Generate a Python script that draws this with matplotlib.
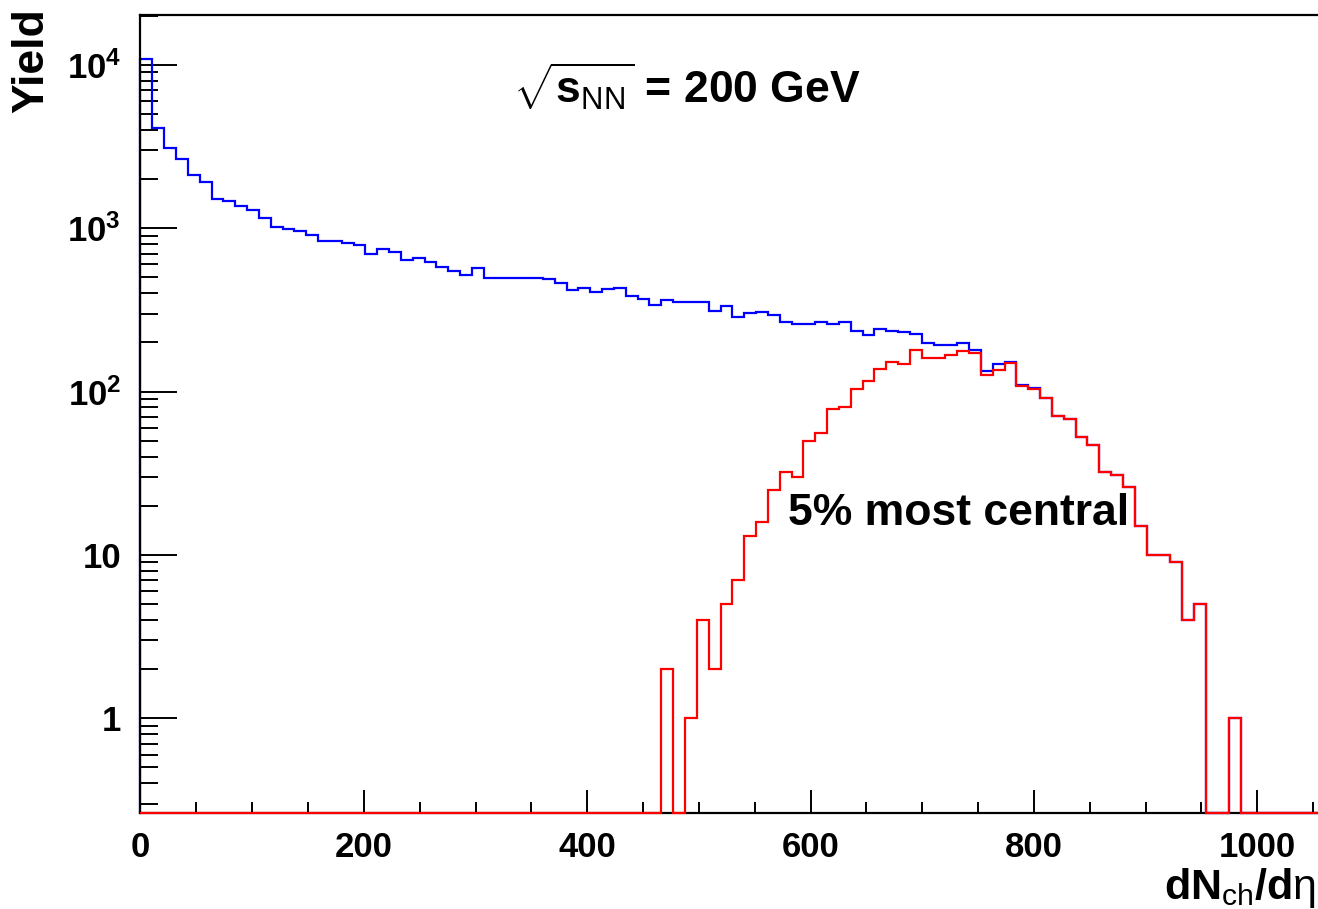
import numpy as np
import matplotlib
matplotlib.use("Agg")
import matplotlib.pyplot as plt
from matplotlib.ticker import MultipleLocator, LogLocator, NullFormatter

plt.rcParams['font.family'] = ['Liberation Sans', 'DejaVu Sans']
plt.rcParams['font.weight'] = 'bold'
plt.rcParams['mathtext.fontset'] = 'custom'
plt.rcParams['mathtext.rm'] = 'Liberation Sans:bold'
plt.rcParams['mathtext.bf'] = 'Liberation Sans:bold'
plt.rcParams['mathtext.it'] = 'Liberation Sans:bold'
plt.rcParams['mathtext.sf'] = 'Liberation Sans:weight=normal'
plt.rcParams['mathtext.default'] = 'rm'

# histogram binning: 100 bins over dNch/deta 0..1060
x_min, x_max, n_bins = 0, 1060, 100

# all events (blue), one value per bin
yield_all = [
    10800, 4100, 3120, 2660, 2120, 1920, 1510, 1465, 1377, 1297,
    1158, 1024, 991, 968, 911, 838, 838, 817, 787, 693,
    745, 717, 640, 656, 620, 583, 549, 516, 567, 499,
    499, 499, 499, 499, 488, 459, 418, 432, 406, 422,
    432, 382, 371, 340, 365, 351, 351, 351, 312, 332,
    286, 301, 309, 294, 266, 259, 259, 267, 259, 267,
    236, 223, 243, 236, 230, 225, 198, 194, 194, 199,
    180, 134, 147, 151, 110, 105, 91, 71, 68, 53,
    47, 32, 31, 26, 15, 10, 10, 9, 4, 5,
    0, 0, 1, 0, 0, 0, 0, 0, 0, 0,
]

# 5% most central events (red)
yield_central = [
    0, 0, 0, 0, 0, 0, 0, 0, 0, 0,
    0, 0, 0, 0, 0, 0, 0, 0, 0, 0,
    0, 0, 0, 0, 0, 0, 0, 0, 0, 0,
    0, 0, 0, 0, 0, 0, 0, 0, 0, 0,
    0, 0, 0, 0, 2, 0, 1, 4, 2, 5,
    7, 13, 16, 25, 32, 30, 50, 56, 78, 81,
    103, 116, 138, 152, 148, 180, 161, 161, 167, 178,
    172, 126, 135, 149, 108, 103, 91, 71, 68, 53,
    47, 32, 31, 26, 15, 10, 10, 9, 4, 5,
    0, 0, 1, 0, 0, 0, 0, 0, 0, 0,
]

y_lo, y_hi = 0.262, 2.02e4
ytick_vals = [1, 10, 100, 1000, 10000]
ytick_labels = ['1', '10', r'$10^{2}$', r'$10^{3}$', r'$10^{4}$']

edges = np.linspace(x_min, x_max, n_bins + 1)
# empty bins sit on the bottom of the log axis, like ROOT does
blue = np.where(np.array(yield_all) > 0, yield_all, y_lo)
red = np.where(np.array(yield_central) > 0, yield_central, y_lo)

fig = plt.figure(figsize=(13.18, 9.09), dpi=100)
ax = fig.add_axes([0.1066, 0.1053, 0.8981, 0.8782])

ax.stairs(blue, edges, baseline=y_lo, color='#0000ff', lw=1.6, zorder=2, clip_on=False)
ax.stairs(red, edges, baseline=y_lo, color='#ff0000', lw=1.6, zorder=4, clip_on=False)

ax.set_yscale('log')
ax.set_xlim(x_min, x_max)
ax.set_ylim(y_lo, y_hi)

ax.xaxis.set_major_locator(MultipleLocator(200))
ax.xaxis.set_minor_locator(MultipleLocator(50))
ax.set_yticks(ytick_vals)
ax.set_yticklabels(ytick_labels)
ax.yaxis.set_minor_locator(LogLocator(base=10, subs=np.arange(2, 10)))
ax.yaxis.set_minor_formatter(NullFormatter())

ax.tick_params(axis='x', which='major', direction='in', length=16.5, width=1.4, labelsize=25, pad=13)
ax.tick_params(axis='x', which='minor', direction='in', length=8, width=1.4)
ax.tick_params(axis='y', which='major', direction='in', length=26.5, width=1.4, labelsize=25, pad=14)
ax.tick_params(axis='y', which='minor', direction='in', length=13, width=1.4)

for side in ['left', 'bottom', 'top', 'right']:
    ax.spines[side].set_linewidth(1.6)

fig.text(32 / 1318, 1 - 8 / 909, 'Yield', rotation=90, ha='center', va='top', fontsize=32, fontweight='bold')
fig.text(1316 / 1318, 1 - 899 / 909, r'dN$_{\mathsf{ch}}$/d$\mathsf{\eta}$', ha='right', va='baseline',
         fontsize=31, fontweight='bold')
fig.text(513 / 1318, 1 - 103 / 909, r'$\sqrt{s_{\mathsf{NN}}}$ = 200 GeV', ha='left', va='baseline',
         fontsize=32, fontweight='bold')
fig.text(788 / 1318, 1 - 525 / 909, '5% most central', ha='left', va='baseline',
         fontsize=32, fontweight='bold')

fig.savefig('out.png', dpi=100)
